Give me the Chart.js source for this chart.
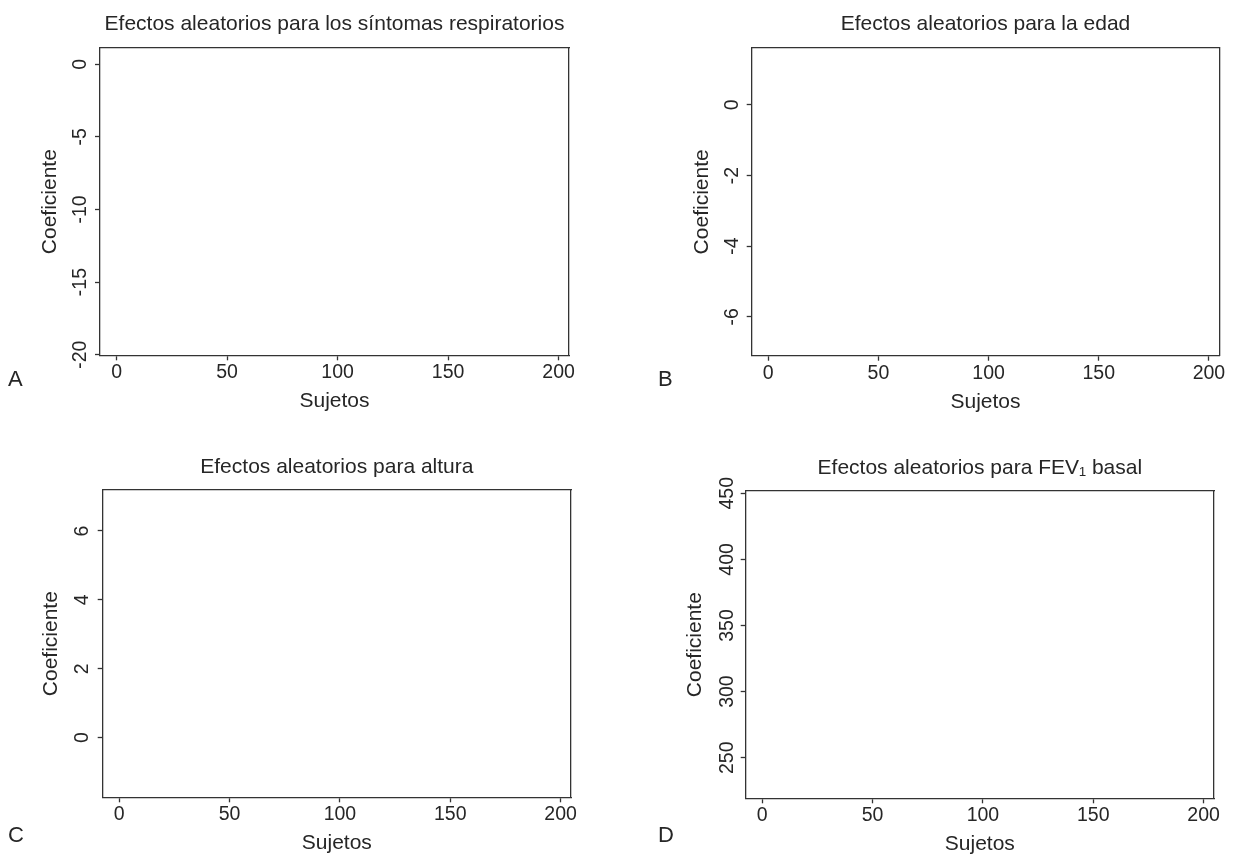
<!DOCTYPE html>
<html>
<head>
<meta charset="utf-8">
<script src="https://cdn.jsdelivr.net/npm/chart.js@4.4.1/dist/chart.umd.min.js"></script>
<style>
  html, body { margin: 0; padding: 0; width: 1234px; height: 855px; overflow: hidden; background: #ffffff; }
  .panel { position: absolute; }
  .tag { position: absolute; font-family: 'Liberation Sans', Arial, sans-serif; font-size: 22px; line-height: 22px; color: #262626; }
</style>
</head>
<body>
<div class="panel" style="left:0px;top:0px;width:617px;height:427px"><canvas id="cA"></canvas></div>
<div class="panel" style="left:617px;top:0px;width:617px;height:427px"><canvas id="cB"></canvas></div>
<div class="panel" style="left:0px;top:427px;width:617px;height:440px"><canvas id="cC"></canvas></div>
<div class="panel" style="left:617px;top:427px;width:617px;height:440px"><canvas id="cD"></canvas></div>
<div class="tag" style="left:8px;top:368px">A</div>
<div class="tag" style="left:658px;top:368px">B</div>
<div class="tag" style="left:8px;top:824px">C</div>
<div class="tag" style="left:658px;top:824px">D</div>
<script>
// ---- data ----
const panelTitles = [
  'Efectos aleatorios para los síntomas respiratorios',
  'Efectos aleatorios para la edad',
  'Efectos aleatorios para altura',
  'Efectos aleatorios para FEV\u2081 basal'
];
const xAxisLabel = 'Sujetos';
const yAxisLabel = 'Coeficiente';
const subjectTicks = [0, 50, 100, 150, 200];
const subjectRange = [-7.5, 204.7];
const coefTicksA = [-20, -15, -10, -5, 0];
const coefTicksB = [-6, -4, -2, 0];
const coefTicksC = [0, 2, 4, 6];
const coefTicksD = [250, 300, 350, 400, 450];
const coefRangeA = [-20.04, 1.12];
const coefRangeB = [-7.10, 1.61];
const coefRangeC = [-1.73, 7.19];
const coefRangeD = [219.3, 451.7];
// no markers are visible inside any of the four panels of the reference
const effectsA = [];
const effectsB = [];
const effectsC = [];
const effectsD = [];

// ---- styling / layout ----
const FONT = "'Liberation Sans', Arial, Helvetica, sans-serif";
const TXT = '#262626';
const LINE = '#333333';
const LW = 1.3;

function makeChart(id, title, points, yTicks, yRange, L) {
  const xTicksObj = subjectTicks.map(v => ({ value: v }));
  const yTicksObj = yTicks.map(v => ({ value: v }));
  new Chart(document.getElementById(id), {
    type: 'scatter',
    data: { datasets: [{ data: points, pointRadius: 3, backgroundColor: LINE, borderColor: LINE }] },
    options: {
      responsive: true,
      maintainAspectRatio: false,
      animation: false,
      events: [],
      layout: { padding: { left: 0, top: 0, right: L.pr, bottom: 0 } },
      plugins: {
        legend: { display: false },
        tooltip: { enabled: false },
        title: {
          display: true, text: title, fullSize: false, color: TXT,
          font: { family: FONT, size: 21, weight: 'normal' },
          padding: { top: L.tt, bottom: L.tb }
        }
      },
      scales: {
        x: {
          type: 'linear', position: 'bottom', min: subjectRange[0], max: subjectRange[1],
          afterBuildTicks: s => { s.ticks = xTicksObj.map(t => ({ value: t.value })); },
          afterFit: s => { s.height = L.xh; },
          ticks: { font: { family: FONT, size: 19.5 }, color: TXT, padding: L.xp, maxRotation: 0, minRotation: 0, autoSkip: false, callback: v => String(v) },
          grid: { display: true, drawOnChartArea: false, drawTicks: true, tickLength: 5, tickColor: LINE, tickWidth: LW, color: LINE },
          border: { display: true, color: LINE, width: LW },
          title: { display: true, text: xAxisLabel, color: TXT, font: { family: FONT, size: 21 }, padding: { top: 0, bottom: L.xtb } }
        },
        y: {
          type: 'linear', position: 'left', min: yRange[0], max: yRange[1],
          afterBuildTicks: s => { s.ticks = yTicksObj.map(t => ({ value: t.value })); },
          afterFit: s => { s.width = L.yw; },
          ticks: { font: { family: FONT, size: 19.5 }, color: TXT, padding: L.yp, minRotation: 90, maxRotation: 90, crossAlign: 'center', autoSkip: false, callback: v => String(v) },
          grid: { display: true, drawOnChartArea: false, drawTicks: true, tickLength: 5, tickColor: LINE, tickWidth: LW, color: LINE },
          border: { display: true, color: LINE, width: LW },
          title: { display: true, text: yAxisLabel, color: TXT, font: { family: FONT, size: 21 }, padding: { top: L.yt, bottom: 0 } }
        },
        xTop: {
          type: 'linear', position: 'top', min: subjectRange[0], max: subjectRange[1],
          afterFit: s => { s.height = 0; },
          ticks: { display: false },
          grid: { display: false },
          border: { display: true, color: LINE, width: LW }
        },
        yRight: {
          type: 'linear', position: 'right', min: yRange[0], max: yRange[1],
          afterFit: s => { s.width = 0; },
          ticks: { display: false },
          grid: { display: false },
          border: { display: true, color: LINE, width: LW }
        }
      }
    }
  });
}

makeChart('cA', panelTitles[0], effectsA, coefTicksA, coefRangeA,
  { pr: 48, tt: 11.9, tb: 10.9, yw: 100, xh: 71.7, yt: 37.4, xtb: 12.9, yp: 0.4, xp: 1 });
makeChart('cB', panelTitles[1], effectsB, coefTicksB, coefRangeB,
  { pr: 14.7, tt: 11.9, tb: 10.9, yw: 134.7, xh: 71.3, yt: 72.9, xtb: 12.5, yp: 5.8, xp: 1 });
makeChart('cC', panelTitles[2], effectsC, coefTicksC, coefRangeC,
  { pr: 46, tt: 27.2, tb: 10.6, yw: 102.7, xh: 69.7, yt: 38.9, xtb: 10.9, yp: 9.6, xp: 1 });
makeChart('cD', panelTitles[3], effectsD, coefTicksD, coefRangeD,
  { pr: 20, tt: 28.9, tb: 9.9, yw: 128.7, xh: 68.7, yt: 65.4, xtb: 9.9, yp: -2.8, xp: 1 });
</script>
</body>
</html>
